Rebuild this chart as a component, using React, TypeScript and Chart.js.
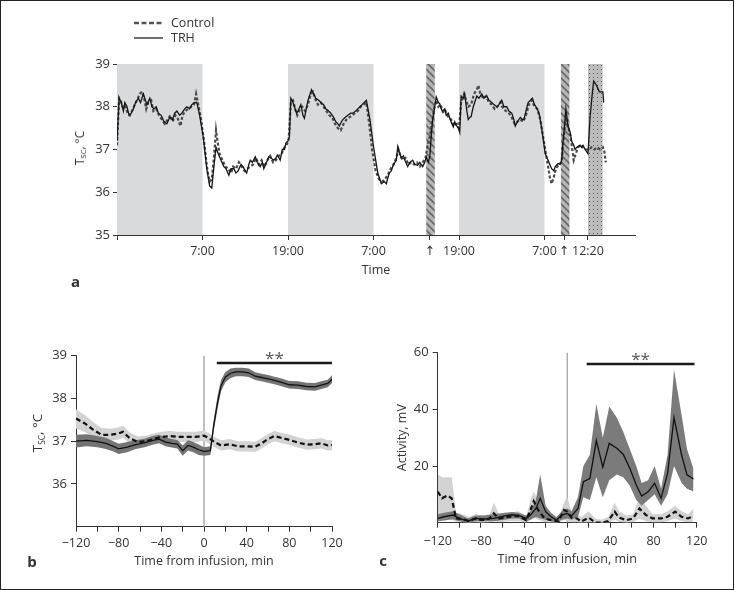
import React, { useEffect, useRef } from "react";
import { Chart, registerables } from "chart.js";
Chart.register(...registerables);

const FONT = '"Open Sans", "DejaVu Sans", sans-serif';
const INK = "#333";

// ---------- Panel a: temperature over time (hours from 19:00) ----------
const aTrh: [number, number][] = [
  [0, 37.2], [0.3, 38.2], [0.6, 38.1], [0.9, 37.9], [1.1, 38.1], [1.4, 38.0], [1.7, 37.8], [2.0, 37.85], [2.3, 37.95], [2.6, 38.1],
  [3.0, 38.2], [3.3, 38.1], [3.7, 38.3], [4.0, 38.15], [4.2, 38.05], [4.6, 38.2], [4.9, 38.0], [5.2, 37.95], [5.5, 38.0], [5.8, 37.85],
  [6.2, 37.8], [6.6, 37.65], [7.0, 37.6], [7.4, 37.75], [7.8, 37.7], [8.1, 37.85], [8.4, 37.9], [8.8, 37.8], [9.1, 37.85], [9.5, 37.95],
  [9.8, 38.0], [10.2, 37.95], [10.5, 38.05], [10.9, 38.1], [11.2, 38.1], [11.6, 37.8], [12.1, 37.3], [12.6, 36.55], [13.0, 36.15], [13.3, 36.1],
  [13.6, 36.6], [13.9, 37.05], [14.2, 36.9], [14.6, 36.75], [15.0, 36.6], [15.3, 36.55], [15.7, 36.4], [16.0, 36.55], [16.4, 36.55], [16.7, 36.45],
  [17.0, 36.5], [17.4, 36.65], [17.7, 36.6], [18.0, 36.5], [18.2, 36.45], [18.5, 36.65], [18.7, 36.75], [19.0, 36.7], [19.4, 36.83], [19.7, 36.7],
  [20.1, 36.6], [20.4, 36.7], [20.6, 36.55], [21.0, 36.7], [21.3, 36.83], [21.6, 36.8], [22.0, 36.75], [22.3, 36.8], [22.5, 36.87], [22.9, 36.75],
  [23.2, 37.0], [23.5, 37.0], [23.7, 37.15], [24.0, 37.2], [24.2, 37.3], [24.4, 38.2], [24.7, 38.1], [24.9, 38.0], [25.2, 37.85], [25.4, 37.9],
  [25.8, 38.05], [26.1, 37.8], [26.3, 37.73], [26.8, 38.15], [27.3, 38.4], [27.6, 38.3], [27.9, 38.2], [28.3, 38.15], [28.6, 38.1], [29.0, 38.05],
  [29.3, 37.95], [29.7, 37.9], [30.0, 37.85], [30.4, 37.75], [30.7, 37.65], [31.0, 37.6], [31.2, 37.55], [31.5, 37.65], [31.7, 37.7], [32.0, 37.75],
  [32.4, 37.8], [32.8, 37.85], [33.1, 37.85], [33.5, 37.9], [33.8, 37.95], [34.1, 38.0], [34.4, 38.05], [34.7, 38.1], [35.0, 38.15], [35.5, 37.7],
  [36.0, 37.07], [36.6, 36.45], [37.1, 36.2], [37.5, 36.25], [37.8, 36.2], [38.2, 36.45], [38.5, 36.5], [38.7, 36.6], [39.0, 36.7], [39.2, 36.75],
  [39.4, 37.07], [39.7, 36.9], [39.9, 36.8], [40.2, 36.85], [40.4, 36.75], [40.8, 36.6], [41.1, 36.7], [41.5, 36.75], [41.8, 36.65], [42.2, 36.63],
  [42.5, 36.7], [42.9, 36.6], [43.2, 36.7], [43.4, 36.83], [43.7, 36.7], [43.9, 36.83], [44.1, 37.3], [44.3, 37.7], [44.6, 38.0], [44.8, 38.23],
  [45.1, 38.1], [45.3, 38.07], [45.5, 37.95], [45.7, 37.9], [46.0, 37.95], [46.2, 37.8], [46.5, 37.85], [46.7, 37.73], [47.0, 37.6], [47.2, 37.53],
  [47.4, 37.65], [47.6, 37.57], [47.9, 37.5], [48.1, 37.4], [48.3, 38.25], [48.6, 38.2], [48.8, 38.3], [49.1, 37.9], [49.3, 37.7], [49.5, 37.75],
  [49.7, 37.77], [50.0, 38.0], [50.5, 38.25], [50.8, 38.2], [51.2, 38.3], [51.5, 38.2], [51.9, 38.25], [52.2, 38.15], [52.6, 38.1], [52.9, 38.05],
  [53.3, 38.0], [53.6, 38.05], [54.0, 38.15], [54.3, 38.0], [54.7, 38.0], [55.0, 37.9], [55.4, 37.85], [55.7, 37.7], [55.9, 37.55], [56.2, 37.65],
  [56.6, 37.75], [56.9, 37.7], [57.1, 37.7], [57.4, 37.9], [57.7, 38.1], [58.0, 38.15], [58.3, 38.2], [58.6, 38.05], [58.8, 38.0], [59.1, 37.9],
  [59.3, 37.8], [59.6, 37.5], [60.1, 36.9], [60.5, 36.75], [61.0, 36.55], [61.3, 36.5], [61.5, 36.6], [61.9, 36.67], [62.2, 36.65], [62.4, 36.75],
  [62.7, 37.37], [63.0, 37.95], [63.3, 37.55], [63.6, 37.4], [63.8, 37.2], [64.1, 37.1], [64.3, 37.0], [64.5, 37.05], [64.7, 37.07], [65.0, 37.1],
  [65.2, 37.05], [65.4, 37.1], [65.7, 37.0], [66.1, 36.9], [66.4, 37.77], [66.7, 38.3], [66.9, 38.6], [67.3, 38.5], [67.7, 38.35], [68.2, 38.35],
  [68.3, 38.1],
];

const aControl: [number, number][] = [
  [0, 37.1], [0.3, 38.2], [0.6, 38.1], [0.9, 37.95], [1.2, 38.0], [1.5, 37.85], [1.8, 37.8], [2.1, 37.9], [2.5, 38.05], [2.8, 38.15],
  [3.2, 38.3], [3.5, 38.35], [3.8, 38.2], [4.1, 37.95], [4.4, 38.1], [4.8, 38.15], [5.1, 37.9], [5.5, 37.95], [5.9, 37.8], [6.3, 37.7],
  [6.7, 37.6], [7.1, 37.7], [7.5, 37.8], [7.8, 37.65], [8.2, 37.8], [8.6, 37.7], [8.9, 37.55], [9.2, 37.8], [9.6, 37.9], [10.0, 37.95],
  [10.4, 38.0], [10.8, 38.05], [11.1, 38.3], [11.4, 38.05], [11.8, 37.7], [12.2, 37.2], [12.7, 36.5], [13.0, 36.25], [13.3, 36.3], [13.6, 36.8],
  [13.9, 37.45], [14.1, 37.2], [14.4, 36.9], [14.8, 36.75], [15.2, 36.6], [15.6, 36.55], [16.0, 36.45], [16.3, 36.6], [16.7, 36.55], [17.1, 36.7],
  [17.5, 36.6], [17.9, 36.5], [18.3, 36.55], [18.7, 36.6], [19.1, 36.65], [19.5, 36.8], [19.9, 36.65], [20.3, 36.75], [20.7, 36.6], [21.1, 36.75],
  [21.5, 36.85], [21.9, 36.7], [22.3, 36.75], [22.7, 36.85], [23.1, 36.9], [23.5, 37.05], [23.8, 37.1], [24.1, 37.25], [24.4, 38.1], [24.7, 38.15],
  [25.0, 37.95], [25.3, 37.8], [25.7, 37.95], [26.0, 38.0], [26.4, 37.9], [26.8, 38.05], [27.2, 38.3], [27.5, 38.35], [27.9, 38.15], [28.2, 38.05],
  [28.6, 38.1], [29.0, 38.0], [29.4, 37.9], [29.8, 37.8], [30.2, 37.75], [30.6, 37.6], [31.0, 37.5], [31.4, 37.45], [31.8, 37.6], [32.2, 37.7],
  [32.6, 37.75], [33.0, 37.8], [33.4, 37.85], [33.8, 37.9], [34.2, 38.0], [34.6, 38.05], [35.0, 38.1], [35.4, 37.6], [35.8, 37.0], [36.3, 36.5],
  [36.8, 36.3], [37.2, 36.25], [37.6, 36.3], [38.0, 36.4], [38.4, 36.55], [38.8, 36.65], [39.2, 36.8], [39.5, 37.0], [39.8, 36.85], [40.1, 36.75],
  [40.5, 36.8], [40.9, 36.65], [41.3, 36.7], [41.7, 36.65], [42.1, 36.7], [42.5, 36.6], [42.9, 36.7], [43.3, 36.8], [43.6, 37.1], [43.9, 37.3],
  [44.2, 37.6], [44.5, 37.95], [44.8, 38.15], [45.1, 38.0], [45.4, 38.05], [45.8, 37.85], [46.1, 37.9], [46.5, 37.75], [46.9, 37.7], [47.3, 37.55],
  [47.7, 37.6], [48.0, 37.5], [48.3, 38.1], [48.7, 38.3], [49.0, 38.15], [49.3, 38.0], [49.7, 38.05], [50.1, 38.3], [50.5, 38.4], [50.7, 38.5],
  [51.0, 38.3], [51.4, 38.2], [51.8, 38.25], [52.2, 38.1], [52.6, 38.05], [53.0, 37.95], [53.4, 38.0], [53.8, 38.1], [54.2, 37.95], [54.6, 37.9],
  [55.0, 37.85], [55.4, 37.75], [55.8, 37.6], [56.2, 37.65], [56.6, 37.7], [57.0, 37.65], [57.4, 37.8], [57.8, 38.05], [58.2, 38.15], [58.6, 38.0],
  [59.0, 37.95], [59.4, 37.7], [59.8, 37.3], [60.2, 36.9], [60.5, 36.6], [60.8, 36.3], [61.0, 36.2], [61.3, 36.35], [61.6, 36.55], [62.0, 36.65],
  [62.4, 36.7], [62.7, 37.3], [63.0, 37.7], [63.3, 37.55], [63.6, 37.35], [63.9, 37.0], [64.1, 36.75], [64.4, 36.9], [64.7, 37.05], [65.0, 37.1],
  [65.4, 37.05], [65.8, 37.0], [66.2, 37.0], [66.6, 37.05], [67.0, 37.0], [67.4, 37.05], [67.8, 37.0], [68.2, 37.05], [68.4, 36.95], [68.6, 36.7],
];

const aNightBands: [number, number][] = [[0, 12], [24, 36], [48, 60]];
const aInfusionBands: [number, number][] = [[43.4, 44.6], [62.3, 63.5]];
const aTestBands: [number, number][] = [[66.1, 68.15]];
const aTickHours = [0, 12, 24, 36, 43.9, 48, 60, 62.75, 66.1];
const aTickLabels = ["", "7:00", "19:00", "7:00", "\u2191", "19:00", "7:00", "\u2191", "12:20"];
const aYTicks = [35, 36, 37, 38, 39];

// ---------- Panel b: temperature around infusion [min, mean, low, high] ----------
const bTrh: number[][] = [
  [-120, 37.0, 36.85, 37.15], [-110, 37.02, 36.88, 37.16], [-100, 36.99, 36.86, 37.12], [-92, 36.95, 36.82, 37.08],
  [-85, 36.88, 36.76, 37.0], [-80, 36.82, 36.7, 36.94], [-72, 36.86, 36.74, 36.98], [-64, 36.92, 36.82, 37.02],
  [-56, 36.96, 36.86, 37.06], [-48, 37.02, 36.92, 37.12], [-42, 37.05, 36.95, 37.15], [-36, 36.98, 36.88, 37.08],
  [-30, 36.95, 36.85, 37.05], [-25, 36.93, 36.83, 37.03], [-20, 36.78, 36.66, 36.9], [-15, 36.9, 36.78, 37.02],
  [-10, 36.86, 36.74, 36.98], [-5, 36.8, 36.68, 36.92], [0, 36.76, 36.66, 36.86], [6, 36.78, 36.68, 36.88],
  [9, 37.35, 37.22, 37.48], [13, 37.95, 37.8, 38.1], [16, 38.3, 38.17, 38.43], [20, 38.5, 38.38, 38.62],
  [25, 38.59, 38.48, 38.7], [30, 38.62, 38.52, 38.72], [36, 38.62, 38.52, 38.72], [42, 38.6, 38.5, 38.7],
  [48, 38.52, 38.43, 38.61], [54, 38.49, 38.4, 38.58], [60, 38.46, 38.37, 38.55], [66, 38.42, 38.33, 38.51],
  [72, 38.38, 38.29, 38.47], [80, 38.32, 38.23, 38.41], [88, 38.31, 38.22, 38.4], [96, 38.28, 38.19, 38.37],
  [104, 38.27, 38.18, 38.36], [110, 38.31, 38.22, 38.4], [116, 38.35, 38.26, 38.44], [120, 38.45, 38.36, 38.54],
];
const bControl: number[][] = [
  [-120, 37.53, 37.3, 37.75], [-112, 37.42, 37.22, 37.62], [-104, 37.27, 37.09, 37.45], [-96, 37.15, 36.99, 37.31],
  [-88, 37.15, 37.01, 37.29], [-80, 37.18, 37.04, 37.32], [-76, 37.22, 37.08, 37.36], [-70, 37.08, 36.95, 37.21],
  [-62, 36.98, 36.85, 37.11], [-54, 37.0, 36.87, 37.13], [-46, 37.06, 36.93, 37.19], [-40, 37.1, 36.98, 37.22],
  [-32, 37.12, 37.0, 37.24], [-24, 37.1, 36.98, 37.22], [-16, 37.1, 36.98, 37.22], [-8, 37.1, 36.98, 37.22],
  [0, 37.13, 37.01, 37.25], [4, 37.08, 36.96, 37.2], [10, 36.98, 36.86, 37.1], [16, 36.9, 36.78, 37.02],
  [24, 36.93, 36.81, 37.05], [32, 36.88, 36.76, 37.0], [40, 36.88, 36.76, 37.0], [48, 36.87, 36.75, 36.99],
  [54, 36.95, 36.83, 37.07], [60, 37.05, 36.93, 37.17], [66, 37.12, 37.0, 37.24], [72, 37.08, 36.96, 37.2],
  [80, 37.03, 36.91, 37.15], [88, 36.97, 36.85, 37.09], [96, 36.92, 36.8, 37.04], [104, 36.93, 36.81, 37.05],
  [110, 36.95, 36.83, 37.07], [116, 36.9, 36.78, 37.02], [120, 36.91, 36.79, 37.03],
];
const bYTicks = [36, 37, 38, 39];
const bSig = { from: 12, to: 120, level: 38.83 };

// ---------- Panel c: activity around infusion [min, mean, low, high] ----------
const cTrh: number[][] = [
  [-120, 1.5, 0.5, 3], [-114, 2.1, 0.8, 3.5], [-106, 2.7, 1.2, 4], [-100, 1.5, 0.5, 3], [-92, 0.6, 0, 1.5],
  [-85, 1.5, 0.5, 2.5], [-77, 1.3, 0.5, 2.5], [-68, 1.5, 0.5, 3], [-58, 2.4, 1, 3.5], [-51, 2.8, 1.5, 3.8],
  [-45, 2.6, 1.5, 3.5], [-38, 1.5, 0.5, 2.5], [-34, 2.7, 1, 4], [-29, 5, 2, 8], [-25, 8.6, 1.5, 17],
  [-20, 3.9, 1, 6], [-15, 2.1, 0.5, 3.5], [-10, 0.9, 0, 2], [-5, 2.7, 1, 4], [0, 3.3, 1.5, 5],
  [4, 2.4, 1, 4], [10, 5, 2, 9], [15, 14.5, 9, 20], [21, 15.6, 8, 24], [27, 29, 16, 42],
  [33, 19.6, 9, 30], [39, 28, 15, 41], [46, 26.3, 17, 37], [52, 24.1, 16, 32], [58, 19.2, 13, 26],
  [64, 13.3, 8, 20], [69, 9.4, 6, 14], [75, 10.9, 8, 15], [81, 13.9, 10, 20], [87, 8.6, 6, 12],
  [93, 17.4, 10, 24], [99, 37.1, 20, 54], [106, 23.9, 14, 38], [111, 16.9, 12, 26], [117, 15.4, 11, 19],
];
const cControl: number[][] = [
  [-120, 11, 1, 17], [-116, 8.6, 1, 16], [-111, 9.6, 1.5, 16], [-107, 8.6, 1, 16], [-103, 1.5, 0.3, 3.5],
  [-97, 1.3, 0.2, 3], [-91, 0.6, 0, 2], [-85, 1.5, 0.2, 3], [-79, 0.9, 0, 2.5], [-72, 1.5, 0.2, 3],
  [-68, 3.3, 0.5, 7], [-63, 1.5, 0.2, 3], [-54, 2.1, 0.5, 3.5], [-45, 2.4, 0.5, 4], [-38, 0.9, 0, 2],
  [-34, 4.5, 1, 8], [-31, 7.6, 2, 11], [-27, 4.5, 1, 8], [-21, 1.5, 0.2, 3], [-15, 0.9, 0, 2],
  [-8, 0.4, 0, 1.5], [-3, 4.5, 1, 7], [0, 3.9, 0.5, 9], [4, 1.8, 0.2, 4], [9, 1.5, 0.2, 3],
  [13, 0.4, 0, 2], [20, 1.8, 0.2, 4], [26, 0, 0, 1.5], [32, 0, 0, 1], [38, 0.6, 0, 2],
  [44, 3.9, 1, 7], [48, 1.8, 0.3, 4], [55, 0.9, 0, 2.5], [61, 1.5, 0.2, 3], [67, 5, 1.5, 9],
  [73, 2.7, 0.5, 6], [79, 1.5, 0.2, 3], [87, 1.5, 0.2, 3], [93, 2.1, 0.5, 4], [100, 3.9, 1.5, 6],
  [106, 2.1, 0.5, 4], [112, 1.5, 0.2, 3], [117, 2.4, 0.5, 5],
];
const cYTicks = [20, 40, 60];
const cSig = { from: 18, to: 118, level: 56 };

const infusionXTicks = [-120, -100, -80, -60, -40, -20, 0, 20, 40, 60, 80, 100, 120];

// ---------- helpers ----------
const fmtMin = (v: number) => (v % 40 === 0 ? (v < 0 ? "\u2212" + Math.abs(v) : String(v)) : "");

function makeHatch(): CanvasPattern | string {
  const c = document.createElement("canvas");
  c.width = 7; c.height = 7;
  const g = c.getContext("2d");
  if (!g) return "#999";
  g.fillStyle = "#b6b6b6"; g.fillRect(0, 0, 7, 7);
  g.strokeStyle = "#6a6a6a"; g.lineWidth = 1.7;
  g.beginPath();
  g.moveTo(-1, -1); g.lineTo(8, 8);
  g.moveTo(-1, 6); g.lineTo(1, 8);
  g.moveTo(6, -1); g.lineTo(8, 1);
  g.stroke();
  return g.createPattern(c, "repeat") || "#999";
}
function makeDots(): CanvasPattern | string {
  const c = document.createElement("canvas");
  c.width = 4; c.height = 4;
  const g = c.getContext("2d");
  if (!g) return "#aaa";
  g.fillStyle = "#bcbcbc"; g.fillRect(0, 0, 4, 4);
  g.fillStyle = "#5a5a5a"; g.fillRect(1, 1, 1, 1);
  return g.createPattern(c, "repeat") || "#aaa";
}

const aBandsPlugin = {
  id: "aBands",
  beforeDatasetsDraw(chart: any) {
    const { ctx, chartArea, scales } = chart;
    const x = scales.x;
    const top = chartArea.top, h = chartArea.bottom - chartArea.top;
    ctx.save();
    const fill = (bands: [number, number][], style: any) => {
      ctx.fillStyle = style;
      bands.forEach(([s, e]) => {
        const x0 = x.getPixelForValue(s), x1 = x.getPixelForValue(e);
        ctx.fillRect(x0, top, x1 - x0, h);
      });
    };
    fill(aNightBands, "#d9dadb");
    fill(aInfusionBands, makeHatch());
    fill(aTestBands, makeDots());
    ctx.restore();
  },
};

function sigPlugin(sig: { from: number; to: number; level: number }, zeroColor: string, zeroWidth: number) {
  return {
    id: "sig",
    beforeDatasetsDraw(chart: any) {
      const { ctx, chartArea, scales } = chart;
      const x0 = scales.x.getPixelForValue(0);
      ctx.save();
      ctx.strokeStyle = zeroColor; ctx.lineWidth = zeroWidth;
      ctx.beginPath(); ctx.moveTo(x0, chartArea.top); ctx.lineTo(x0, chartArea.bottom); ctx.stroke();
      ctx.restore();
    },
    afterDatasetsDraw(chart: any) {
      const { ctx, scales } = chart;
      const xa = scales.x.getPixelForValue(sig.from), xb = scales.x.getPixelForValue(sig.to);
      const yy = scales.y.getPixelForValue(sig.level);
      ctx.save();
      ctx.strokeStyle = "#1a1a1a"; ctx.lineWidth = 2.5;
      ctx.beginPath(); ctx.moveTo(xa, yy); ctx.lineTo(xb, yy); ctx.stroke();
      ctx.fillStyle = "#555"; ctx.font = `17px ${FONT}`;
      ctx.textAlign = "center"; ctx.textBaseline = "alphabetic";
      ctx.fillText("**", (xa + xb) / 2, yy + 1);
      ctx.restore();
    },
  };
}

const tickFont = (size: number) => ({ family: FONT, size });

function bandDatasets(rows: number[][], lineColor: string, lineWidth: number, dash: number[], bandColor: string) {
  const pts = (k: number) => rows.map((r) => ({ x: r[0], y: r[k] }));
  return {
    line: { data: pts(1), borderColor: lineColor, borderWidth: lineWidth, borderDash: dash, pointRadius: 0, tension: 0, fill: false },
    upper: { data: pts(3), borderWidth: 0, borderColor: "rgba(0,0,0,0)", backgroundColor: bandColor, pointRadius: 0, tension: 0, fill: "+1" },
    lower: { data: pts(2), borderWidth: 0, borderColor: "rgba(0,0,0,0)", pointRadius: 0, tension: 0, fill: false },
  };
}

function infusionConfig(
  trh: number[][], ctl: number[][], yMin: number, yMax: number, yTicks: number[],
  padding: any, yWidth: number, xLabelPad: number, xTitlePad: number,
  plugin: any, trhBand: string, ctlBand: string, yTitle?: string, yTitlePad?: number,
) {
  const t = bandDatasets(trh, "#111", 1.3, [], trhBand);
  const c = bandDatasets(ctl, "#111", 2.2, [5, 3], ctlBand);
  return {
    type: "line",
    data: { datasets: [t.line, c.line, t.upper, t.lower, c.upper, c.lower] },
    options: {
      animation: false, responsive: false, maintainAspectRatio: false,
      layout: { padding },
      plugins: { legend: { display: false }, tooltip: { enabled: false } },
      scales: {
        x: {
          type: "linear", min: -120, max: 120,
          afterBuildTicks: (s: any) => { s.ticks = infusionXTicks.map((v) => ({ value: v })); },
          ticks: { autoSkip: false, maxRotation: 0, color: INK, font: tickFont(12.5), padding: xLabelPad, callback: (v: any) => fmtMin(Number(v)) },
          grid: { drawOnChartArea: false, tickLength: 5, color: INK },
          border: { color: INK, width: 1 },
          title: { display: true, text: "Time from infusion, min", color: INK, font: tickFont(12.5), padding: { top: 0, bottom: xTitlePad } },
          afterFit: (s: any) => { s.height = 45; s.paddingLeft = 0; s.paddingRight = 0; },
        },
        y: {
          type: "linear", min: yMin, max: yMax,
          afterBuildTicks: (s: any) => { s.ticks = yTicks.map((v) => ({ value: v })); },
          ticks: { color: INK, font: tickFont(13), padding: 4 },
          grid: { drawOnChartArea: false, tickLength: 5, color: INK },
          border: { color: INK, width: 1 },
          title: yTitle ? { display: true, text: yTitle, color: INK, font: tickFont(12.5), padding: { top: yTitlePad, bottom: 0 } } : { display: false },
          afterFit: (s: any) => { s.width = yWidth; s.paddingTop = 0; s.paddingBottom = 0; },
        },
      },
    },
    plugins: [plugin],
  };
}

function aConfig() {
  return {
    type: "line",
    data: {
      datasets: [
        { data: aTrh.map(([x, y]) => ({ x, y })), borderColor: "#151515", borderWidth: 1.3, pointRadius: 0, tension: 0 },
        { data: aControl.map(([x, y]) => ({ x, y })), borderColor: "#4a4a4a", borderWidth: 2.2, borderDash: [3, 2], pointRadius: 0, tension: 0 },
      ],
    },
    options: {
      animation: false, responsive: false, maintainAspectRatio: false,
      layout: { padding: { left: 0, top: 64, right: 100, bottom: 20 } },
      plugins: { legend: { display: false }, tooltip: { enabled: false } },
      scales: {
        x: {
          type: "linear", min: 0, max: 72.7,
          afterBuildTicks: (s: any) => { s.ticks = aTickHours.map((v) => ({ value: v })); },
          ticks: { autoSkip: false, maxRotation: 0, color: INK, font: tickFont(12.5), padding: 4, callback: (_v: any, i: number) => aTickLabels[i] },
          grid: { drawOnChartArea: false, tickLength: 5, color: INK },
          border: { color: INK, width: 1 },
          title: { display: true, text: "Time", color: INK, font: tickFont(12.5), padding: { top: 0, bottom: 2 } },
          afterFit: (s: any) => { s.height = 45; s.paddingLeft = 0; s.paddingRight = 0; },
        },
        y: {
          type: "linear", min: 35, max: 39,
          afterBuildTicks: (s: any) => { s.ticks = aYTicks.map((v) => ({ value: v })); },
          ticks: { color: INK, font: tickFont(13), padding: 3 },
          grid: { drawOnChartArea: false, tickLength: 4, color: INK },
          border: { color: INK, width: 1 },
          afterFit: (s: any) => { s.width = 117; s.paddingTop = 0; s.paddingBottom = 0; },
        },
      },
    },
    plugins: [aBandsPlugin],
  };
}

function ChartCanvas({ make, left, top, width, height }: { make: () => any; left: number; top: number; width: number; height: number }) {
  const ref = useRef<HTMLCanvasElement>(null);
  useEffect(() => {
    if (!ref.current) return;
    const chart = new Chart(ref.current, make());
    return () => chart.destroy();
  }, []);
  return <canvas ref={ref} width={width} height={height} style={{ position: "absolute", left, top, width, height }} />;
}

function Label({ x, y, children, size = 12.5, rotate = false, bold = false }: any) {
  return (
    <div
      style={{
        position: "absolute", left: x, top: y, whiteSpace: "nowrap", lineHeight: 1,
        fontFamily: FONT, fontSize: size, color: INK, fontWeight: bold ? 700 : 400,
        transform: `translate(-50%, -50%)${rotate ? " rotate(-90deg)" : ""}`,
      }}
    >
      {children}
    </div>
  );
}

const Tsc = () => (
  <>T<span style={{ fontSize: "0.62em", position: "relative", top: "0.3em" }}>SC</span>, °C</>
);

export default function App() {
  return (
    <div style={{ position: "fixed", left: 0, top: 0, width: 735, height: 590, background: "#fff", overflow: "hidden" }}>
      <div style={{ position: "absolute", left: 0, top: 0, width: 734, height: 590, border: "1.5px solid #222", boxSizing: "border-box" }} />
      <ChartCanvas make={aConfig} left={0} top={0} width={735} height={300} />
      <ChartCanvas
        make={() => infusionConfig(bTrh, bControl, 35, 39, bYTicks, { left: 0, top: 25.7, right: 33, bottom: 18.3 }, 76, 4, 2.5, sigPlugin(bSig, "#aaa", 1.5), "#747474", "#d2d2d2")}
        left={0} top={330} width={365} height={260}
      />
      <ChartCanvas
        make={() => infusionConfig(cTrh, cControl, 0, 60, cYTicks, { left: 0, top: 22.7, right: 38.3, bottom: 22.3 }, 72.7, 6.5, 0.5, sigPlugin(cSig, "#888", 1), "#7b7b7b", "#d2d2d2", "Activity, mV", 30)}
        left={365} top={330} width={370} height={260}
      />
      {/* legend */}
      <svg style={{ position: "absolute", left: 130, top: 15, width: 40, height: 30 }} width={40} height={30}>
        <line x1={4} y1={8} x2={33} y2={8} stroke="#555" strokeWidth={2.6} strokeDasharray="5 2.5" />
        <line x1={4} y1={23} x2={33} y2={23} stroke="#222" strokeWidth={1.3} />
      </svg>
      <div style={{ position: "absolute", left: 171, top: 15, fontFamily: FONT, fontSize: 12.5, color: INK, lineHeight: "16px" }}>Control</div>
      <div style={{ position: "absolute", left: 171, top: 30, fontFamily: FONT, fontSize: 12.5, color: INK, lineHeight: "16px" }}>TRH</div>
      {/* axis titles */}
      <Label x={80} y={147.5} rotate size={12}><Tsc /></Label>
      <Label x={37.5} y={432.5} rotate size={13.5}><Tsc /></Label>
      {/* panel letters */}
      <Label x={75.5} y={281} bold size={15}>a</Label>
      <Label x={32} y={561} bold size={15}>b</Label>
      <Label x={383} y={560} bold size={15}>c</Label>
    </div>
  );
}
